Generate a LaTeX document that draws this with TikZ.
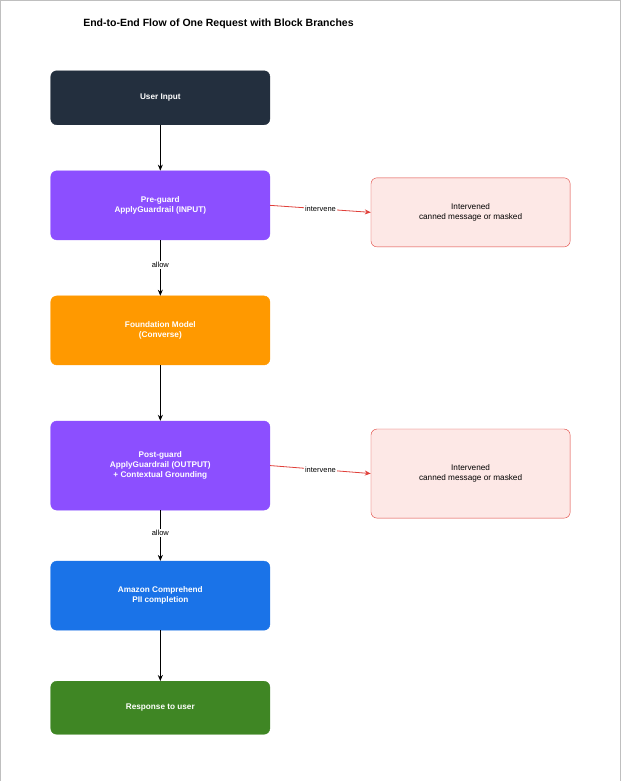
\documentclass[tikz,border=0pt]{standalone}
\usepackage{fontspec}
\setmainfont{Liberation Sans}
\usetikzlibrary{arrows.meta}
\definecolor{dark}{HTML}{232F3E}
\definecolor{purp}{HTML}{8C4FFF}
\definecolor{orng}{HTML}{FF9900}
\definecolor{blu}{HTML}{1A73E8}
\definecolor{grn}{HTML}{3F8624}
\definecolor{pinkf}{HTML}{FDE8E6}
\definecolor{redl}{HTML}{E0403A}
\begin{document}
\begin{tikzpicture}[x=1pt,y=-1pt,
  box/.style={rounded corners=6pt,draw=#1,fill=#1,text=white,font=\bfseries\fontsize{8.2}{10}\selectfont,align=center,minimum width=219pt,inner sep=0pt},
  rbox/.style={rounded corners=6pt,draw=redl,fill=pinkf,text=black,font=\fontsize{8.2}{10}\selectfont,align=center,minimum width=199pt,minimum height=69pt,inner sep=0pt},
  arr/.style={-{Stealth[length=6pt,width=5pt]},line width=1pt},
  rarr/.style={-{Stealth[length=6pt,width=5pt]},line width=0.8pt,draw=redl},
  lbl/.style={fill=white,font=\fontsize{7.5}{9}\selectfont,inner sep=1pt}]
\draw[draw=gray!50,fill=white] (0.5,0.5) rectangle (620.5,780.5);
\node[anchor=west,font=\bfseries\fontsize{10.5}{12}\selectfont] (t) at (80,24) {End-to-End Flow of One Request with Block Branches};
\node[box=dark,minimum height=54pt] (a) at (160.5,98) {User Input};
\node[box=purp,minimum height=69pt] (b) at (160.5,205.5) {Pre-guard\\ApplyGuardrail (INPUT)};
\node[box=orng,minimum height=69pt] (c) at (160.5,330.5) {Foundation Model\\(Converse)};
\node[box=purp,minimum height=89pt] (d) at (160.5,465.5) {Post-guard\\ApplyGuardrail (OUTPUT)\\+ Contextual Grounding};
\node[box=blu,minimum height=69pt] (e) at (160.5,595.5) {Amazon Comprehend\\PII completion};
\node[box=grn,minimum height=53pt] (f) at (160.5,707.5) {Response to user};
\node[rbox] (r1) at (470.5,212.5) {Intervened\\canned message or masked};
\node[rbox,minimum height=89pt] (r2) at (470.5,473.5) {Intervened\\canned message or masked};
\draw[arr] (a) -- (b);
\draw[arr] (b) -- node[lbl,pos=0.45]{allow} (c);
\draw[arr] (c) -- (d);
\draw[arr] (d) -- node[lbl,pos=0.45]{allow} (e);
\draw[arr] (e) -- (f);
\draw[rarr] (b.east) -- node[lbl,pos=0.5]{intervene} (r1.west);
\draw[rarr] (d.east) -- node[lbl,pos=0.5]{intervene} (r2.west);
\end{tikzpicture}
\end{document}
